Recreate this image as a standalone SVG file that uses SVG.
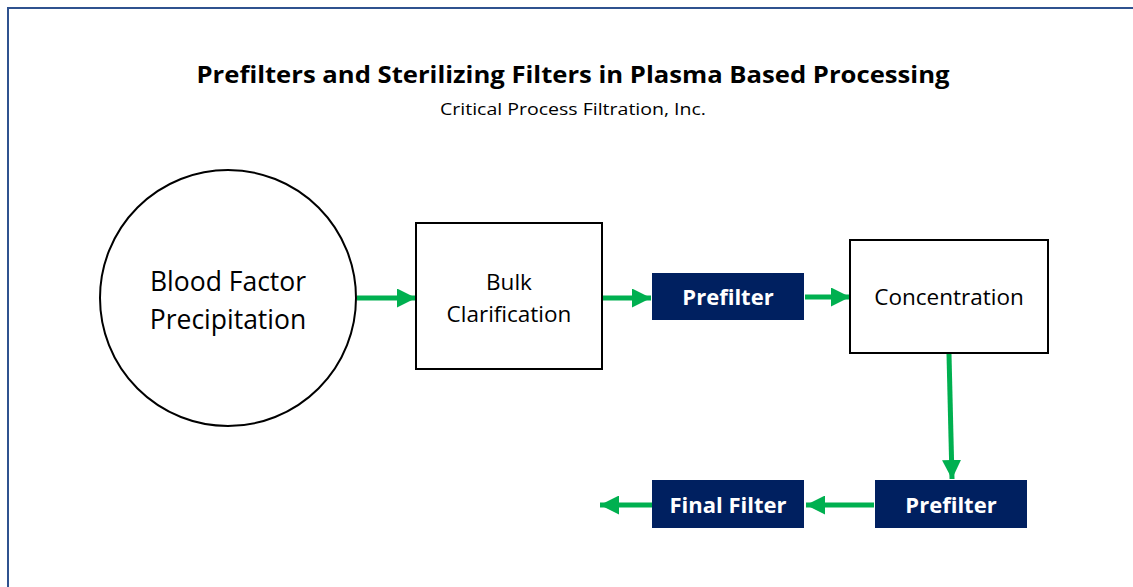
<svg xmlns="http://www.w3.org/2000/svg" width="1133" height="587" viewBox="0 0 1133 587">
<style>
.bd{fill:none;stroke:#2F528F;stroke-width:2}
.node{fill:#fff;stroke:#000;stroke-width:2}
.filt{fill:#002060;stroke:none}
.t{font-family:"Open Sans","DejaVu Sans",sans-serif;fill:#000;text-anchor:middle}
.ft{font-family:"Open Sans","DejaVu Sans",sans-serif;fill:#fff;font-weight:bold;font-size:22px;text-anchor:middle}
.c{stroke:#00B050;stroke-width:5;fill:none}
</style>
<defs>
<marker id="ah" viewBox="0 0 10 10" refX="10" refY="5" markerWidth="3.8" markerHeight="3.8" markerUnits="strokeWidth" orient="auto">
<path d="M0,0 L10,5 L0,10 Z" fill="#00B050"/>
</marker>
</defs>
<rect width="1133" height="587" fill="#fff"/>
<path class="bd" d="M8,587 L8,8 L1133,8"/>
<g id="title">
<text class="t" x="573" y="83" font-size="23" font-weight="bold" textLength="753" lengthAdjust="spacingAndGlyphs">Prefilters and Sterilizing Filters in Plasma Based Processing</text>
<text class="t" x="573" y="115" font-size="16" textLength="266" lengthAdjust="spacingAndGlyphs">Critical Process Filtration, Inc.</text>
</g>
<g id="connectors">
<line class="c" x1="357" y1="298" x2="416" y2="298" marker-end="url(#ah)"/>
<line class="c" x1="602" y1="298" x2="651" y2="298" marker-end="url(#ah)"/>
<line class="c" x1="805" y1="297" x2="850" y2="297" marker-end="url(#ah)"/>
<line class="c" x1="949" y1="354" x2="952" y2="479" marker-end="url(#ah)"/>
<line class="c" x1="874" y1="505" x2="806" y2="505" marker-end="url(#ah)"/>
<line class="c" x1="652" y1="505" x2="600" y2="505" marker-end="url(#ah)"/>
</g>
<g id="blood-factor">
<circle class="node" cx="228" cy="298" r="128"/>
<text class="t" x="228" y="291" font-size="26.5">Blood Factor</text>
<text class="t" x="228" y="329" font-size="26.5">Precipitation</text>
</g>
<g id="bulk-clarification">
<rect class="node" x="416" y="223" width="186" height="146"/>
<text class="t" x="509" y="290" font-size="22.5">Bulk</text>
<text class="t" x="509" y="322" font-size="22.5">Clarification</text>
</g>
<g id="prefilter-1">
<rect class="filt" x="652" y="273" width="152" height="47"/>
<text class="ft" x="728" y="305">Prefilter</text>
</g>
<g id="concentration">
<rect class="node" x="850" y="240" width="198" height="113"/>
<text class="t" x="949" y="305" font-size="22.5">Concentration</text>
</g>
<g id="prefilter-2">
<rect class="filt" x="875" y="480" width="152" height="48"/>
<text class="ft" x="951" y="513">Prefilter</text>
</g>
<g id="final-filter">
<rect class="filt" x="652" y="480" width="152" height="48"/>
<text class="ft" x="728" y="513">Final Filter</text>
</g>
</svg>
